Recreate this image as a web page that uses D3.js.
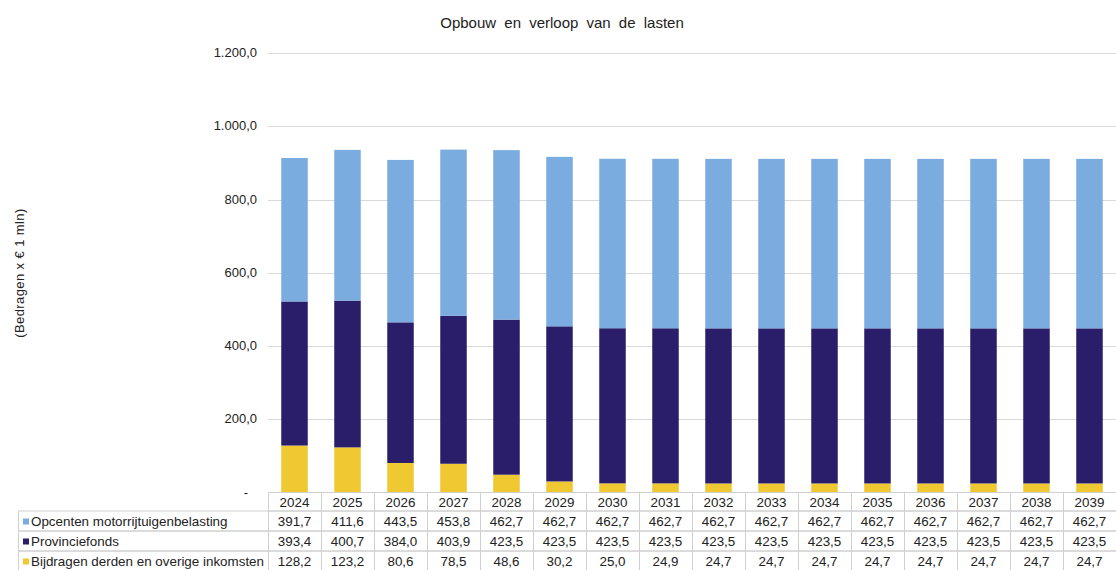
<!DOCTYPE html>
<meta charset="utf-8">
<style>
body { margin: 0; background: #fff; }
text { font-family: "Liberation Sans", Arial, sans-serif; fill: #222; }
.grid line { stroke: #d9d9d9; stroke-width: 1px; }
.cell { fill: none; stroke: #d0d0d0; stroke-width: 1px; }
</style>
<svg width="1116" height="570"></svg>
<script src="https://cdn.jsdelivr.net/npm/d3@7"></script>
<script>

var years = ["2024","2025","2026","2027","2028","2029","2030","2031","2032","2033","2034","2035","2036","2037","2038","2039"];
var opcenten = [391.7, 411.6, 443.5, 453.8, 462.7, 462.7, 462.7, 462.7, 462.7, 462.7, 462.7, 462.7, 462.7, 462.7, 462.7, 462.7];
var provinciefonds = [393.4, 400.7, 384.0, 403.9, 423.5, 423.5, 423.5, 423.5, 423.5, 423.5, 423.5, 423.5, 423.5, 423.5, 423.5, 423.5];
var bijdragen = [128.2, 123.2, 80.6, 78.5, 48.6, 30.2, 25.0, 24.9, 24.7, 24.7, 24.7, 24.7, 24.7, 24.7, 24.7, 24.7];
var yTicks = [0, 200, 400, 600, 800, 1000, 1200];

// legend / table order (top to bottom), stack order is the reverse
var series = [
  { name: "Opcenten motorrijtuigenbelasting", values: opcenten, color: "#7aacdf" },
  { name: "Provinciefonds", values: provinciefonds, color: "#2a1e6a" },
  { name: "Bijdragen derden en overige inkomsten", values: bijdragen, color: "#efc832" }
];

var svg = d3.select("svg");
var plotLeft = 268, plotRight = 1116, plotTop = 53, plotBottom = 492.5;
var fs = "13.4px";

var nl = d3.formatLocale({ decimal: ",", thousands: ".", grouping: [3], currency: ["€", ""] });
var fmt = nl.format(",.1f");

var x = d3.scaleBand().domain(years).range([plotLeft, plotRight]).paddingInner(0.5).paddingOuter(0.25);
var col = d3.scaleBand().domain(years).range([plotLeft, plotRight]);
var y = d3.scaleLinear().domain([0, 1200]).range([plotBottom, plotTop]);

// title
svg.append("text")
    .attr("x", 562).attr("y", 28)
    .attr("text-anchor", "middle")
    .style("font-size", "15px")
    .style("word-spacing", "4px")
    .text("Opbouw en verloop van de lasten");

// y axis label
svg.append("text")
    .attr("transform", "translate(24,273) rotate(-90)")
    .attr("text-anchor", "middle")
    .style("font-size", "13px")
    .style("letter-spacing", "0.4px")
    .text("(Bedragen x € 1 mln)");

// gridlines
svg.append("g").attr("class", "grid")
  .selectAll("line")
  .data(yTicks.filter(function(d) { return d > 0; }))
  .enter().append("line")
    .attr("x1", plotLeft).attr("x2", plotRight)
    .attr("y1", function(d) { return Math.round(y(d)) + 0.5; })
    .attr("y2", function(d) { return Math.round(y(d)) + 0.5; });

// tick labels
svg.append("g")
  .selectAll("text")
  .data(yTicks)
  .enter().append("text")
    .attr("x", function(d) { return d === 0 ? 248 : 257; })
    .attr("y", function(d) { return y(d) + 4; })
    .attr("text-anchor", "end")
    .style("font-size", "13px")
    .text(function(d) { return d === 0 ? "-" : fmt(d); });

// stacked bars
var rows = years.map(function(yr, i) {
  var r = { year: yr };
  series.forEach(function(s) { r[s.name] = s.values[i]; });
  return r;
});
var stacked = d3.stack().keys(series.map(function(s) { return s.name; }).reverse())(rows);
var colorOf = {};
series.forEach(function(s) { colorOf[s.name] = s.color; });

svg.append("g")
  .selectAll("g")
  .data(stacked)
  .enter().append("g")
    .attr("fill", function(d) { return colorOf[d.key]; })
  .selectAll("rect")
  .data(function(d) { return d; })
  .enter().append("rect")
    .attr("x", function(d) { return x(d.data.year); })
    .attr("width", x.bandwidth())
    .attr("y", function(d) { return y(d[1]); })
    .attr("height", function(d) { return y(d[0]) - y(d[1]); });

// data table
var headerTop = plotBottom, rowH = 20, headH = 18.5, tableLeft = 18.5;
var table = svg.append("g");

// header cells
years.forEach(function(yr) {
  table.append("rect").attr("class", "cell")
      .attr("x", col(yr) + 0.5).attr("y", headerTop)
      .attr("width", col.bandwidth()).attr("height", headH);
  table.append("text")
      .attr("x", col(yr) + col.bandwidth() / 2)
      .attr("y", headerTop + 14)
      .attr("text-anchor", "middle")
      .style("font-size", fs)
      .text(yr);
});

series.forEach(function(s, j) {
  var ry = headerTop + headH + j * rowH;
  table.append("rect").attr("class", "cell")
      .attr("x", tableLeft).attr("y", ry)
      .attr("width", plotLeft + 0.5 - tableLeft).attr("height", rowH);
  table.append("rect")
      .attr("x", 23).attr("y", ry + 7.5)
      .attr("width", 6).attr("height", 6)
      .attr("fill", s.color);
  table.append("text")
      .attr("x", 31).attr("y", ry + 15)
      .style("font-size", fs)
      .text(s.name);
  years.forEach(function(yr, i) {
    table.append("rect").attr("class", "cell")
        .attr("x", col(yr) + 0.5).attr("y", ry)
        .attr("width", col.bandwidth()).attr("height", rowH);
    table.append("text")
        .attr("x", col(yr) + col.bandwidth() / 2)
        .attr("y", ry + 15)
        .attr("text-anchor", "middle")
        .style("font-size", fs)
        .text(fmt(s.values[i]));
  });
});

</script>
